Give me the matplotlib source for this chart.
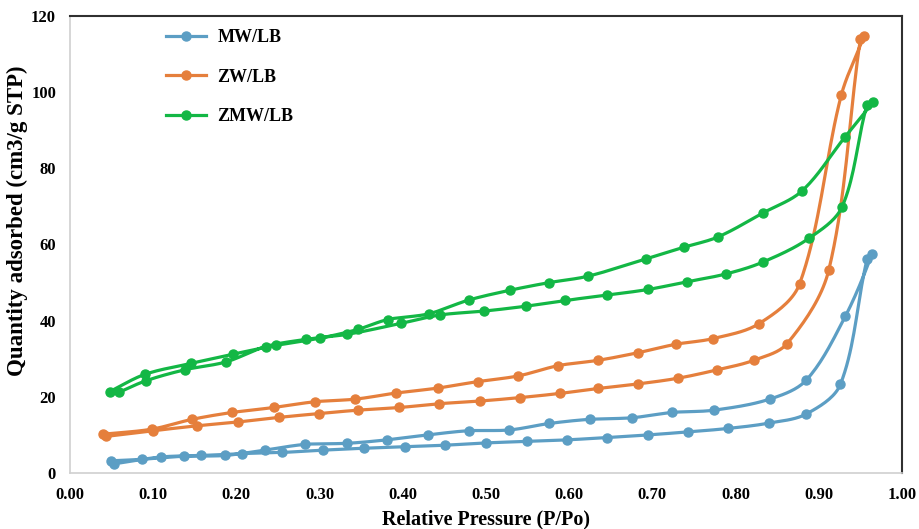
import numpy as np
import matplotlib
matplotlib.use("Agg")
import matplotlib.pyplot as plt

# --- data (P/Po, cm3/g STP) ---
# each loop: adsorption branch going up, then desorption branch coming back
mw_ads_p = [0.053, 0.109, 0.158, 0.207, 0.255, 0.304, 0.353, 0.403, 0.451, 0.500,
            0.549, 0.597, 0.645, 0.695, 0.743, 0.791, 0.840, 0.885, 0.926, 0.958]
mw_ads_q = [2.4, 4.2, 4.6, 5.1, 5.4, 6.0, 6.5, 6.9, 7.3, 7.9,
            8.3, 8.7, 9.3, 10.0, 10.8, 11.7, 13.1, 15.5, 23.3, 56.1]
mw_des_p = [0.964, 0.932, 0.885, 0.841, 0.774, 0.724, 0.675, 0.625, 0.576, 0.528,
            0.479, 0.430, 0.381, 0.333, 0.282, 0.234, 0.186, 0.137, 0.087, 0.049]
mw_des_q = [57.5, 41.2, 24.4, 19.4, 16.5, 15.9, 14.5, 14.1, 13.0, 11.3,
            11.1, 10.0, 8.7, 7.8, 7.5, 6.0, 4.6, 4.4, 3.6, 3.2]

zw_ads_p = [0.043, 0.100, 0.153, 0.202, 0.251, 0.299, 0.346, 0.396, 0.444, 0.493,
            0.541, 0.589, 0.635, 0.683, 0.731, 0.778, 0.822, 0.862, 0.912, 0.950]
zw_ads_q = [9.6, 11.1, 12.4, 13.4, 14.6, 15.6, 16.5, 17.2, 18.2, 18.9,
            19.8, 20.9, 22.2, 23.4, 24.9, 27.1, 29.6, 34.0, 53.3, 114.0]
zw_des_p = [0.954, 0.927, 0.877, 0.828, 0.773, 0.728, 0.683, 0.635, 0.587, 0.539,
            0.490, 0.442, 0.392, 0.343, 0.294, 0.245, 0.195, 0.147, 0.098, 0.040]
zw_des_q = [114.7, 99.2, 49.7, 39.2, 35.3, 33.8, 31.6, 29.6, 28.2, 25.5,
            24.0, 22.3, 21.0, 19.4, 18.7, 17.2, 15.9, 14.1, 11.5, 10.2]

zmw_ads_p = [0.059, 0.091, 0.138, 0.188, 0.235, 0.284, 0.333, 0.398, 0.445, 0.497,
             0.548, 0.595, 0.645, 0.695, 0.741, 0.789, 0.833, 0.888, 0.928, 0.958]
zmw_ads_q = [21.2, 24.2, 27.1, 29.2, 33.2, 35.1, 36.4, 39.3, 41.5, 42.5,
             43.8, 45.3, 46.7, 48.2, 50.2, 52.3, 55.4, 61.6, 69.9, 96.7]
zmw_des_p = [0.965, 0.931, 0.880, 0.833, 0.779, 0.738, 0.692, 0.623, 0.576, 0.529,
             0.479, 0.431, 0.382, 0.346, 0.300, 0.247, 0.196, 0.146, 0.090, 0.048]
zmw_des_q = [97.5, 88.1, 74.1, 68.3, 62.0, 59.3, 56.2, 51.7, 50.0, 48.0,
             45.4, 41.8, 40.3, 37.7, 35.4, 33.5, 31.2, 28.8, 25.9, 21.4]

labels = ["MW/LB", "ZW/LB", "ZMW/LB"]
colors = ["#5c9ec4", "#e57f3c", "#13b745"]

xticks = np.arange(0, 1.01, 0.1)
yticks = np.arange(0, 121, 20)

# smoothed line through the points (bezier, tangents weighted by segment length
# so short segments don't overshoot)
def smooth(x, y, sx=832.0, sy=458.0 / 120, n=20):
    px = np.asarray(x) * sx
    py = np.asarray(y) * sy
    pts = np.c_[px, py]
    m = len(pts)
    tang = np.zeros_like(pts)
    for i in range(m):
        a = pts[max(i - 1, 0)]
        b = pts[min(i + 1, m - 1)]
        la = np.hypot(*(pts[i] - a))
        lb = np.hypot(*(b - pts[i]))
        tang[i] = (b - a) / max(la + lb, 1e-9)
    xs, ys = [px[0]], [py[0]]
    for i in range(m - 1):
        p1, p2 = pts[i], pts[i + 1]
        L = np.hypot(*(p2 - p1))
        c1 = p1 + tang[i] * L / 3
        c2 = p2 - tang[i + 1] * L / 3
        t = np.linspace(0, 1, n)[1:, None]
        bz = (1 - t) ** 3 * p1 + 3 * (1 - t) ** 2 * t * c1 + 3 * (1 - t) * t ** 2 * c2 + t ** 3 * p2
        xs.extend(bz[:, 0]); ys.extend(bz[:, 1])
    return np.array(xs) / sx, np.array(ys) / sy

plt.rcParams["font.family"] = "Liberation Serif"
plt.rcParams["font.weight"] = "bold"

fig = plt.figure(figsize=(9.19, 5.29), dpi=100)
ax = fig.add_axes([70 / 919, 1 - 473 / 529, 832 / 919, 457 / 529])

series = [
    (mw_ads_p + mw_des_p, mw_ads_q + mw_des_q),
    (zw_ads_p + zw_des_p, zw_ads_q + zw_des_q),
    (zmw_ads_p + zmw_des_p, zmw_ads_q + zmw_des_q),
]
for (p, q), lab, c in zip(series, labels, colors):
    sx, sy = smooth(p, q)
    ax.plot(sx, sy, "-", color=c, lw=2.3, solid_capstyle="round")
    ax.plot(p, q, "o", color=c, ms=6.5, mec=c)
    ax.plot([], [], "-o", color=c, lw=2.3, ms=6.5, label=lab)

ax.set_xlim(0, 1)
ax.set_ylim(0, 120)
ax.set_xticks(xticks)
ax.set_yticks(yticks)
ax.set_xticklabels([f"{v:.2f}" for v in xticks])
ax.set_yticklabels([f"{v:.0f}" for v in yticks])
ax.tick_params(length=0, labelsize=12, pad=10)
for s in ["left", "bottom"]:
    ax.spines[s].set_color("#d0d0d0")
    ax.spines[s].set_linewidth(1.2)
for s in ["top", "right"]:
    ax.spines[s].set_color("#303030")
    ax.spines[s].set_linewidth(1.5)

ax.set_xlabel("Relative Pressure (P/Po)", fontsize=14.5, fontweight="bold")
ax.set_ylabel("Quantity adsorbed (cm3/g STP)", fontsize=16.5, fontweight="bold")
ax.xaxis.set_label_coords(0.5, -(509 - 473) / 457)
ax.yaxis.set_label_coords(-(70 - 28) / 832, (473 - 221) / 457)

ax.legend(loc="upper left", bbox_to_anchor=(166 / 919, 1 - 29 / 529),
          bbox_transform=fig.transFigure, frameon=False, borderpad=0,
          borderaxespad=0, handlelength=2.2, handletextpad=0.65,
          labelspacing=1.25, prop={"size": 13, "weight": "bold"})

fig.savefig("out.png", dpi=100)
